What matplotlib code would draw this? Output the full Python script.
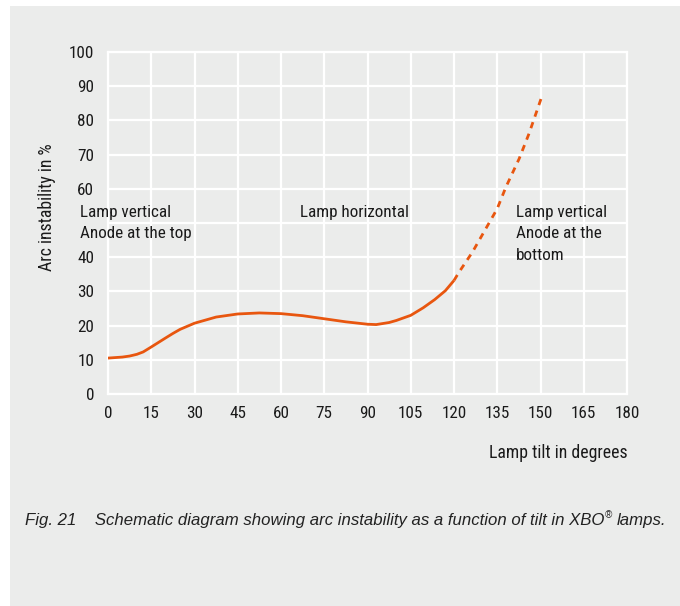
import matplotlib
matplotlib.use("Agg")
import matplotlib.pyplot as plt
from matplotlib.patches import Rectangle

# Data
solid_x = [0, 5, 7.5, 10, 12.2, 15, 20, 22.5, 25, 30, 37.5, 45, 52.5, 60, 67.5, 75,
           82.5, 90, 93, 97.5, 100, 105, 109.3, 113.3, 117, 120]
solid_y = [10.5, 10.8, 11.1, 11.6, 12.3, 13.75, 16.4, 17.7, 18.9, 20.7, 22.5, 23.4, 23.7,
           23.5, 22.9, 22.0, 21.1, 20.4, 20.3, 20.9, 21.5, 23.0, 25.2, 27.6, 30.2, 33.2]
dashed_x = [120, 121.8, 126.4, 135, 138, 142.6, 146, 150.3]
dashed_y = [33.2, 35.7, 41.5, 54.2, 60.5, 68.8, 76.1, 86.6]

x_ticks = list(range(0, 181, 15))
y_ticks = list(range(0, 101, 10))
y_tick_labels = ["0", "10", "20", "30", "40", "", "60", "70", "80", "90", "100"]

region_labels = ["Lamp vertical\nAnode at the top", "Lamp horizontal",
                 "Lamp vertical\nAnode at the\nbottom"]

FONT = ["Roboto Condensed", "Liberation Sans", "DejaVu Sans"]
CAP_FONT = ["Liberation Sans", "DejaVu Sans"]
plt.rcParams["font.family"] = FONT

BG = "#ebeceb"
LINE = "#e8560f"
TXT = "#1a1a1a"

W, H = 680, 606
fig = plt.figure(figsize=(W / 100, H / 100), dpi=100, facecolor="white")
fig.patches.append(Rectangle((10 / W, 0), 1 - 10 / W, 1 - 6 / H, transform=fig.transFigure,
                             facecolor=BG, edgecolor="none", zorder=-10))

ax = fig.add_axes([108 / W, (H - 394) / H, 519 / W, 342 / H])
ax.set_facecolor(BG)
ax.set_xlim(0, 180)
ax.set_ylim(0, 100)
ax.set_xticks(x_ticks)
ax.set_yticks(y_ticks)
ax.set_yticklabels(y_tick_labels)
ax.grid(True, color="white", linewidth=1.6)
ax.set_axisbelow(True)
for s in ax.spines.values():
    s.set_color("white")
    s.set_linewidth(1.6)
ax.tick_params(length=0, labelsize=12.3, colors=TXT)
ax.tick_params(axis="y", pad=10)
ax.tick_params(axis="x", pad=9)

ax.plot(solid_x, solid_y, color=LINE, linewidth=2.0, solid_capstyle="butt", zorder=3)
ax.plot(dashed_x, dashed_y, color=LINE, linewidth=2.0, dashes=(2.3, 2.1), zorder=3)

def px(x, y):
    return x / W, 1 - y / H

fig.text(*px(80, 223), region_labels[0], fontsize=12.3, color=TXT, va="center",
         linespacing=1.5, ha="left")
fig.text(*px(300, 212), region_labels[1], fontsize=12.3, color=TXT, va="center", ha="left")
fig.text(*px(516, 234), region_labels[2], fontsize=12.3, color=TXT, va="center",
         linespacing=1.5, ha="left")

fig.text(*px(47, 207), "Arc instability in %", fontsize=12.8, color=TXT, rotation=90,
         ha="center", va="center")
fig.text(*px(628, 453), "Lamp tilt in degrees", fontsize=12.8, color=TXT,
         ha="right", va="center")

cap = fig.text(*px(25, 520),
               "Fig. 21    Schematic diagram showing arc instability as a function of tilt in XBO",
               fontsize=12.1, color="#222222", style="italic", ha="left", va="center",
               family=CAP_FONT)
fig.canvas.draw()
bb = cap.get_window_extent()
reg = fig.text((bb.x1 + 0.5) / W, (bb.y0 + bb.height * 0.8) / H, "®", fontsize=7,
               color="#222222", style="italic", ha="left", va="center", family=CAP_FONT)
fig.canvas.draw()
bb2 = reg.get_window_extent()
fig.text((bb2.x1 + 5) / W, (bb.y0 + bb.y1) / 2 / H, "lamps.", fontsize=12.1,
         color="#222222", style="italic", ha="left", va="center", family=CAP_FONT)

fig.savefig("out.png", dpi=100, facecolor="white")
